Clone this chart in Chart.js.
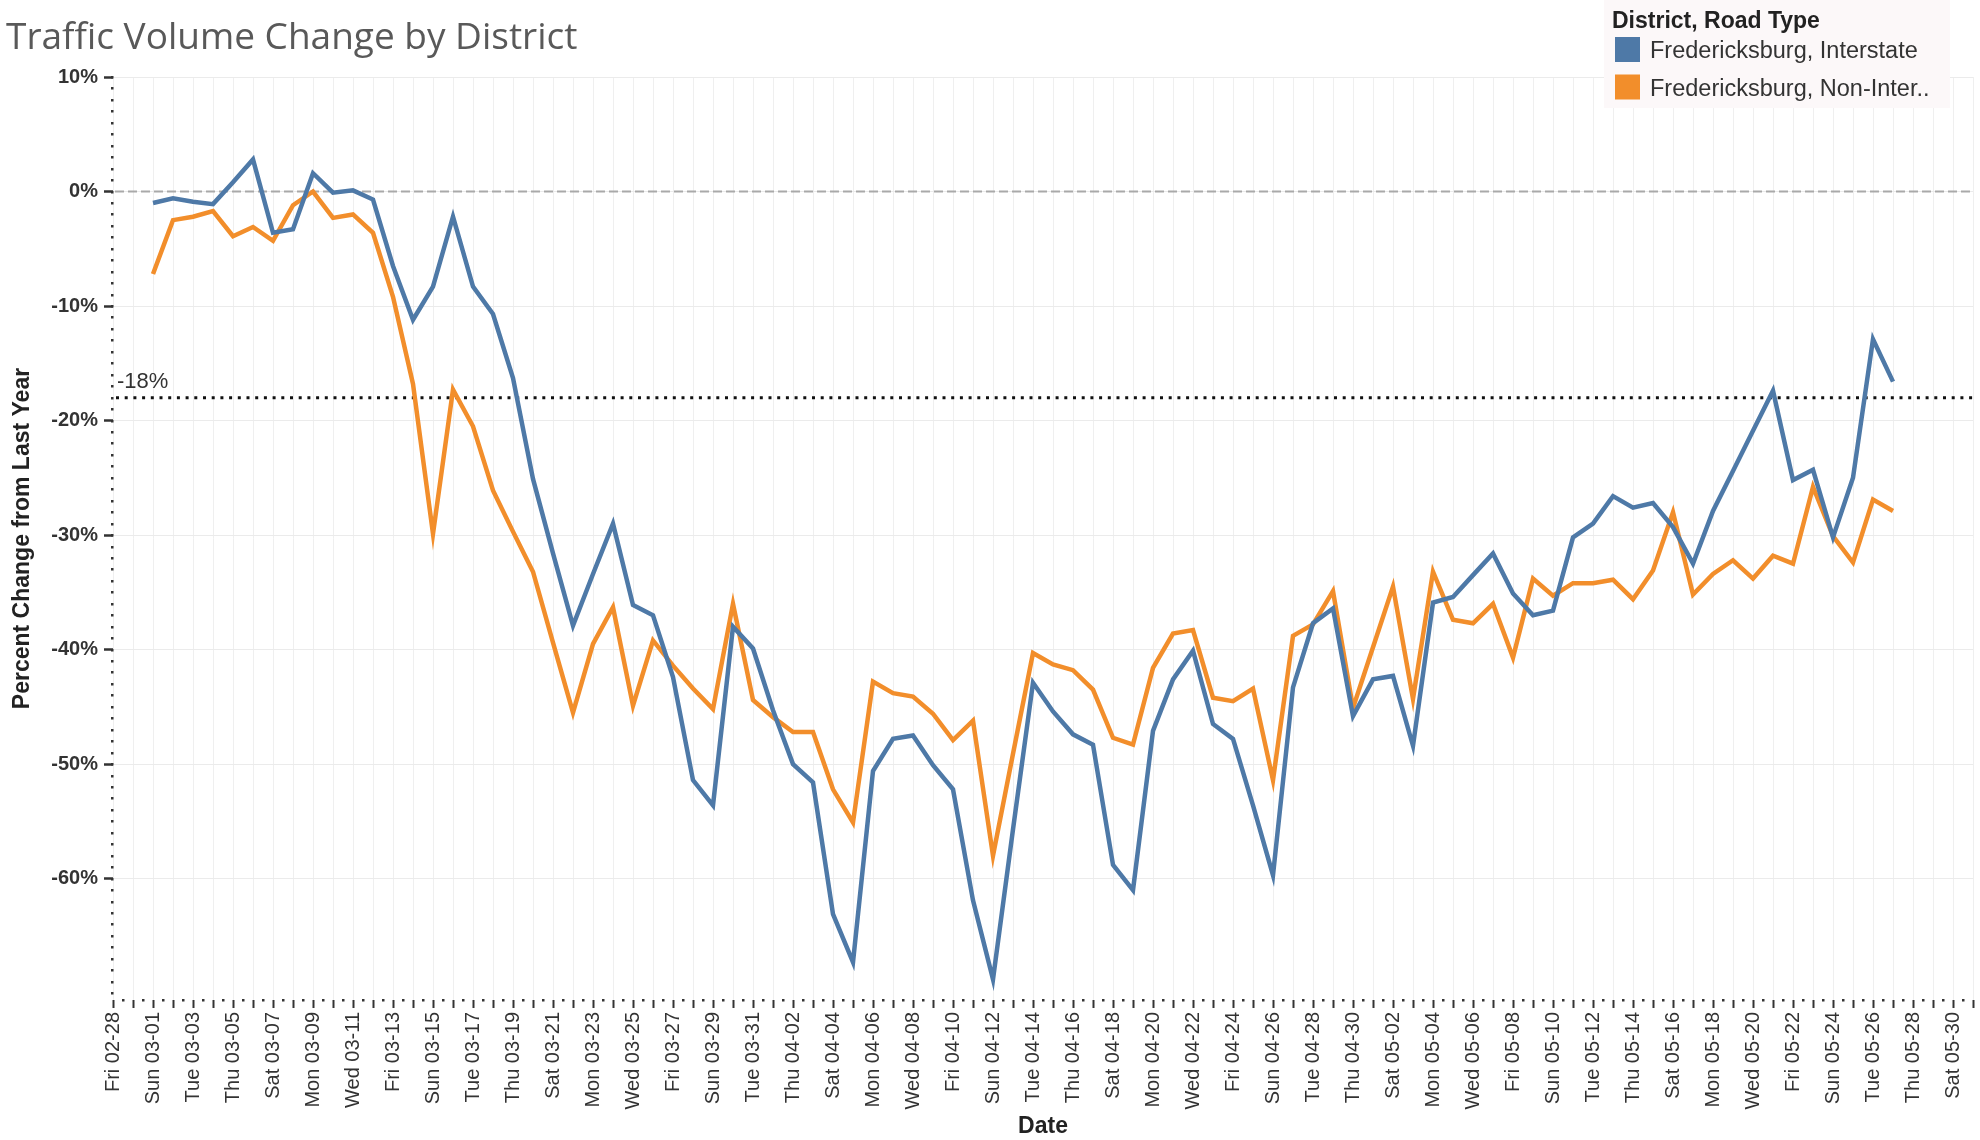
<!DOCTYPE html>
<html><head><meta charset="utf-8">
<script src="https://cdn.jsdelivr.net/npm/chart.js@4"></script>
<style>html,body{margin:0;padding:0;background:#fff;}canvas{display:block;}</style>
</head><body>
<canvas id="c" width="1980" height="1140"></canvas>
<script>
const chartTitle = 'Traffic Volume Change by District';
const legendTitle = 'District, Road Type';
const seriesNames = ['Fredericksburg, Interstate', 'Fredericksburg, Non-Inter..'];
const seriesColors = ['#4e79a7', '#f28e2b'];
const xTitle = 'Date';
const yTitle = 'Percent Change from Last Year';
const yTicks = [10, 0, -10, -20, -30, -40, -50, -60];
const yMin = -70.6, yMax = 10;
const zeroValue = 0;
const refValue = -18;
const refLabel = '-18%';

const dates = [
 'Fri 02-28','Sat 02-29','Sun 03-01','Mon 03-02','Tue 03-03','Wed 03-04','Thu 03-05','Fri 03-06','Sat 03-07','Sun 03-08',
 'Mon 03-09','Tue 03-10','Wed 03-11','Thu 03-12','Fri 03-13','Sat 03-14','Sun 03-15','Mon 03-16','Tue 03-17','Wed 03-18',
 'Thu 03-19','Fri 03-20','Sat 03-21','Sun 03-22','Mon 03-23','Tue 03-24','Wed 03-25','Thu 03-26','Fri 03-27','Sat 03-28',
 'Sun 03-29','Mon 03-30','Tue 03-31','Wed 04-01','Thu 04-02','Fri 04-03','Sat 04-04','Sun 04-05','Mon 04-06','Tue 04-07',
 'Wed 04-08','Thu 04-09','Fri 04-10','Sat 04-11','Sun 04-12','Mon 04-13','Tue 04-14','Wed 04-15','Thu 04-16','Fri 04-17',
 'Sat 04-18','Sun 04-19','Mon 04-20','Tue 04-21','Wed 04-22','Thu 04-23','Fri 04-24','Sat 04-25','Sun 04-26','Mon 04-27',
 'Tue 04-28','Wed 04-29','Thu 04-30','Fri 05-01','Sat 05-02','Sun 05-03','Mon 05-04','Tue 05-05','Wed 05-06','Thu 05-07',
 'Fri 05-08','Sat 05-09','Sun 05-10','Mon 05-11','Tue 05-12','Wed 05-13','Thu 05-14','Fri 05-15','Sat 05-16','Sun 05-17',
 'Mon 05-18','Tue 05-19','Wed 05-20','Thu 05-21','Fri 05-22','Sat 05-23','Sun 05-24','Mon 05-25','Tue 05-26','Wed 05-27',
 'Thu 05-28','Fri 05-29','Sat 05-30','Sun 05-31'
];

const interstate = [null, null,
 -1.0, -0.6, -0.9, -1.1, 0.8, 2.8, -3.6, -3.3, 1.6, -0.1,
 0.1, -0.7, -6.5, -11.2, -8.3, -2.2, -8.3, -10.7, -16.3, -25.1,
 -31.6, -37.9, -33.4, -29.0, -36.1, -37.0, -42.4, -51.4, -53.6, -38.0,
 -39.9, -45.3, -50.0, -51.6, -63.1, -67.3, -50.6, -47.8, -47.5, -50.1,
 -52.2, -61.9, -68.8, -55.7, -42.9, -45.4, -47.4, -48.3, -58.8, -61.0,
 -47.1, -42.6, -40.1, -46.5, -47.8, -53.6, -59.7, -43.3, -37.7, -36.4,
 -45.8, -42.6, -42.3, -48.4, -35.9, -35.4, -33.5, -31.6, -35.1, -37.0,
 -36.6, -30.2, -29.0, -26.6, -27.6, -27.2, -29.3, -32.5, -27.9, -24.4,
 -20.9, -17.4, -25.2, -24.3, -30.2, -25.0, -12.9, -16.6,
 null, null, null, null];

const nonInterstate = [null, null,
 -7.2, -2.5, -2.2, -1.7, -3.9, -3.1, -4.3, -1.2, 0.0, -2.3,
 -2.0, -3.6, -9.2, -16.8, -29.9, -17.3, -20.5, -26.1, -29.7, -33.2,
 -39.4, -45.5, -39.5, -36.3, -44.9, -39.2, -41.4, -43.4, -45.2, -36.0,
 -44.4, -45.9, -47.2, -47.2, -52.2, -55.1, -42.8, -43.8, -44.1, -45.6,
 -47.9, -46.2, -58.0, -49.1, -40.3, -41.3, -41.8, -43.5, -47.7, -48.3,
 -41.6, -38.6, -38.3, -44.2, -44.5, -43.4, -51.4, -38.8, -37.8, -34.9,
 -45.1, -39.8, -34.5, -44.3, -33.2, -37.4, -37.7, -36.0, -40.7, -33.8,
 -35.3, -34.2, -34.2, -33.9, -35.6, -33.1, -28.0, -35.2, -33.4, -32.2,
 -33.8, -31.8, -32.5, -25.8, -30.1, -32.4, -26.9, -27.9,
 null, null, null, null];

const SANS = '"Liberation Sans", Arial, sans-serif';

const deco = {
  id: 'deco',
  beforeDatasetsDraw(chart) {
    const {ctx, chartArea: a, scales: {x, y}} = chart;
    ctx.save();
    ctx.fillStyle = '#333';
    const unit = Math.abs(y.getPixelForValue(0) - y.getPixelForValue(1));
    for (let p = a.top; p <= a.bottom - 3; p += unit) ctx.fillRect(a.left - 2, Math.round(p) - 1, 2.5, 2.5);
    const dayW = Math.abs(x.getPixelForValue(1) - x.getPixelForValue(0));
    for (let p = a.left + dayW / 2; p <= a.right; p += dayW) ctx.fillRect(Math.round(p) - 1, a.bottom - 1, 2.5, 2.5);
    let yy = y.getPixelForValue(zeroValue);
    ctx.strokeStyle = '#a9a9a9'; ctx.lineWidth = 2; ctx.setLineDash([9, 4]);
    ctx.beginPath(); ctx.moveTo(a.left + 2, yy); ctx.lineTo(a.right, yy); ctx.stroke();
    yy = y.getPixelForValue(refValue);
    ctx.strokeStyle = '#111'; ctx.lineWidth = 3; ctx.setLineDash([3, 5.7]);
    ctx.beginPath(); ctx.moveTo(a.left + 3, yy); ctx.lineTo(a.right, yy); ctx.stroke();
    ctx.setLineDash([]);
    ctx.fillStyle = '#333'; ctx.font = '22px ' + SANS; ctx.textBaseline = 'alphabetic'; ctx.textAlign = 'left';
    ctx.fillText(refLabel, a.left + 4, yy - 10);
    ctx.restore();
  },
  afterDraw(chart) {
    const {ctx} = chart;
    ctx.save();
    ctx.textBaseline = 'alphabetic'; ctx.textAlign = 'left';
    ctx.fillStyle = '#595959'; ctx.font = '37px "Open Sans", Lato, sans-serif';
    ctx.fillText(chartTitle, 6, 49);
    ctx.fillStyle = '#fcf8f9'; ctx.fillRect(1604, 0, 346, 108);
    ctx.fillStyle = '#222'; ctx.font = 'bold 23px ' + SANS;
    ctx.fillText(legendTitle, 1612, 28);
    ctx.font = '23.5px ' + SANS;
    seriesNames.forEach((n, k) => {
      ctx.fillStyle = seriesColors[k];
      ctx.fillRect(1615, 37 + k * 37.5, 25, 25);
      ctx.fillStyle = '#333';
      ctx.fillText(n, 1650, 58 + k * 37.5);
    });
    ctx.restore();
  }
};

new Chart(document.getElementById('c'), {
  type: 'line',
  data: {
    labels: dates,
    datasets: [
      {label: seriesNames[0], data: interstate, borderColor: seriesColors[0], backgroundColor: seriesColors[0], borderWidth: 4.5, pointRadius: 0, tension: 0, fill: false},
      {label: seriesNames[1], data: nonInterstate, borderColor: seriesColors[1], backgroundColor: seriesColors[1], borderWidth: 4.5, pointRadius: 0, tension: 0, fill: false}
    ]
  },
  options: {
    responsive: false, animation: false, devicePixelRatio: 1,
    layout: {padding: {top: 77, right: 7, left: 0, bottom: 0}},
    plugins: {legend: {display: false}, title: {display: false}, tooltip: {enabled: false}},
    scales: {
      x: {
        type: 'category', offset: false,
        grid: {color: '#efefef', lineWidth: 1, drawTicks: true, tickLength: 8, tickColor: '#333', tickWidth: 2},
        border: {display: false},
        ticks: {autoSkip: false, minRotation: 90, maxRotation: 90, padding: 4, color: '#333',
          font: {family: SANS, size: 20},
          callback: (v, i) => (i % 2 === 0 && i <= 92) ? dates[i] : ''},
        title: {display: true, text: xTitle, color: '#222', font: {family: SANS, size: 23, weight: 'bold'}, padding: {top: 0, bottom: 0}},
        afterFit(s) { s.height = 140; s.paddingLeft = 0; s.paddingRight = 0; }
      },
      y: {
        min: yMin, max: yMax,
        afterBuildTicks(s) { s.ticks = yTicks.map(v => ({value: v})); },
        grid: {color: '#ebebeb', lineWidth: 1, drawTicks: true, tickLength: 9, tickColor: '#333', tickWidth: 2.5},
        border: {display: false},
        ticks: {padding: 6, color: '#333', font: {family: SANS, size: 20, weight: 'bold'}, callback: v => v + '%'},
        title: {display: true, text: yTitle, color: '#222', font: {family: SANS, size: 23, weight: 'bold'}, padding: {top: 9, bottom: 0}},
        afterFit(s) { s.width = 113; s.paddingTop = 0; s.paddingBottom = 0; }
      }
    }
  },
  plugins: [deco]
});
</script>
</body></html>
